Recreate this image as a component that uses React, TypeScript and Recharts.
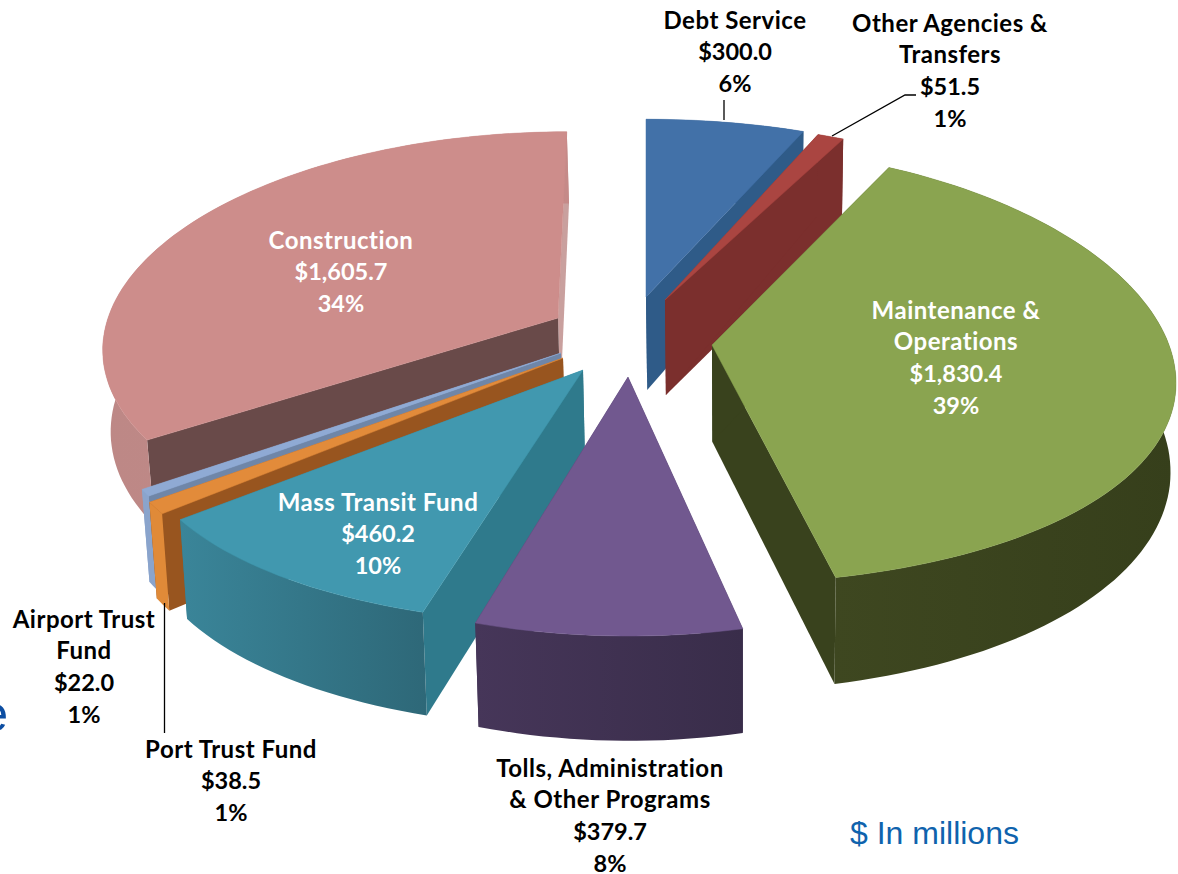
import React from "react";
import { PieChart, Pie } from "recharts";

// Chart values, clockwise from 12 o'clock
const categories = [
  "Debt Service",
  "Other Agencies & Transfers",
  "Maintenance & Operations",
  "Tolls, Administration & Other Programs",
  "Mass Transit Fund",
  "Port Trust Fund",
  "Airport Trust Fund",
  "Construction",
];
const amounts = [300.0, 51.5, 1830.4, 379.7, 460.2, 38.5, 22.0, 1605.7];
const percentLabels = ["6%", "1%", "39%", "8%", "10%", "1%", "1%", "34%"];
const labelLines = [
  ["Debt Service"],
  ["Other Agencies &", "Transfers"],
  ["Maintenance &", "Operations"],
  ["Tolls, Administration", "& Other Programs"],
  ["Mass Transit Fund"],
  ["Port Trust Fund"],
  ["Airport Trust", "Fund"],
  ["Construction"],
];

// Back-to-front painting order
const paintOrder = [7, 0, 1, 2, 6, 5, 4, 3];

// Presentation of every slice: explosion offset and perspective, colours, label position
type Look = {
  tx: number; ty: number; rx: number; ry: number; kx: number; ky: number; sk: number; depth: number; fade: number;
  top: string; cut: string; cutEnd: string; wallA: string; wallB: string;
  lx: number; ly: number; text: string;
};
const looks: Look[] = [
  { tx: 646, ty: 297, rx: 465, ry: 208, kx: 0.17, ky: 0.17, sk: 0, depth: 93, fade: 0, top: "#4271a8", cut: "#2f5b88", cutEnd: "#2f5b88", wallA: "#2f5b88", wallB: "#2f5b88", lx: 735, ly: 20, text: "#000" },
  { tx: 665, ty: 300, rx: 452, ry: 208, kx: 0.17, ky: 0.17, sk: 0, depth: 95, fade: 0, top: "#aa4541", cut: "#7b2f2d", cutEnd: "#7b2f2d", wallA: "#7b2f2d", wallB: "#7b2f2d", lx: 950, ly: 23, text: "#000" },
  { tx: 712, ty: 345, rx: 457, ry: 216, kx: 0.16, ky: 0.095, sk: 6, depth: 97, fade: 0.1, top: "#8aa450", cut: "#39421d", cutEnd: "#39421d", wallA: "#3e4720", wallB: "#363f1b", lx: 956, ly: 310, text: "#fff" },
  { tx: 628, ty: 377, rx: 465, ry: 215, kx: 0.13, ky: 0.17, sk: 0, depth: 87, fade: 0, top: "#71588f", cut: "#3d2f52", cutEnd: "#3d2f52", wallA: "#463659", wallB: "#392d4a", lx: 610, ly: 768, text: "#000" },
  { tx: 583, ty: 370, rx: 445, ry: 228, kx: 0.21, ky: 0.103, sk: 0, depth: 93, fade: 0, top: "#4198af", cut: "#2f7a8c", cutEnd: "#2f7a8c", wallA: "#3a8599", wallB: "#2e6878", lx: 378, ly: 502, text: "#fff" },
  { tx: 563, ty: 358, rx: 460, ry: 230, kx: 0.155, ky: 0.15, sk: 0, depth: 88, fade: 0, top: "#e28b3a", cut: "#98551f", cutEnd: "#98551f", wallA: "#e08a38", wallB: "#e08a38", lx: 231, ly: 749, text: "#000" },
  { tx: 561, ty: 353, rx: 460, ry: 228, kx: 0.15, ky: 0.15, sk: 0, depth: 85, fade: 0, top: "#8faad4", cut: "#6f86a8", cutEnd: "#8aa4cc", wallA: "#8aa4cc", wallB: "#8aa4cc", lx: 84, ly: 619, text: "#000" },
  { tx: 558, ty: 318, rx: 450, ry: 208, kx: 0.13, ky: 0.117, sk: -10, depth: 80, fade: 0, top: "#cd8d8b", cut: "#694a49", cutEnd: "#c9a09e", wallA: "#bd8886", wallB: "#c58a88", lx: 341, ly: 240, text: "#fff" },
];

const rows = categories.map((name, i) => ({ name, value: amounts[i] }));

const FONT = "Lato, sans-serif";
const WALL_VANISH_X = 740;

type Pt = [number, number];

function project(l: Look, thetaDeg: number, radial: number): Pt {
  const t = (thetaDeg * Math.PI) / 180;
  const X = radial * Math.sin(t);
  const Y = -radial * Math.cos(t);
  const px = 1 / (1 - l.kx * Y);
  const py = 1 / (1 - l.ky * Y);
  return [l.tx + (l.rx * X + l.sk * Y) * px, l.ty + l.ry * Y * py];
}

function lower(l: Look, thetaDeg: number, radial: number): Pt {
  const t = (thetaDeg * Math.PI) / 180;
  const X = radial * Math.sin(t);
  const Y = -radial * Math.cos(t);
  const py = 1 / (1 - l.ky * Y);
  const [x, y] = project(l, thetaDeg, radial);
  return [x + (WALL_VANISH_X - x) * 0.0125, y + l.depth * py * (1 - l.fade * X * X)];
}

const path = (pts: Pt[]) => "M" + pts.map((p) => `${p[0].toFixed(1)},${p[1].toFixed(1)}`).join("L") + "Z";

function Slice({ index, startAngle, endAngle }: { index: number; startAngle: number; endAngle: number }) {
  const l = looks[index];
  const a0 = 90 - startAngle;
  const a1 = 90 - endAngle;
  const steps = Math.max(2, Math.ceil((a1 - a0) / 1.5));
  const thetas = Array.from({ length: steps + 1 }, (_, i) => a0 + ((a1 - a0) * i) / steps);
  const tipTop = project(l, 0, 0);
  const tipLow = lower(l, 0, 0);
  const arcTop = thetas.map((t) => project(l, t, 1));
  const arcLow = thetas.map((t) => lower(l, t, 1));
  const gid = `wall-${index}`;
  return (
    <g>
      <defs>
        <linearGradient id={gid} x1="0" y1="0" x2="1" y2="0">
          <stop offset="0%" stopColor={l.wallA} />
          <stop offset="100%" stopColor={l.wallB} />
        </linearGradient>
      </defs>
      <path d={path([tipTop, arcTop[arcTop.length - 1], arcLow[arcLow.length - 1], tipLow])} fill={l.cutEnd} />
      <path d={path([tipTop, arcTop[0], arcLow[0], tipLow])} fill={l.cut} />
      <path d={path([...arcTop, ...[...arcLow].reverse()])} fill={`url(#${gid})`} />
      <path d={path([tipTop, ...arcTop])} fill={l.top} stroke={l.top} strokeWidth={0.5} />
    </g>
  );
}

function Label({ index }: { index: number }) {
  const l = looks[index];
  const valueText = "$" + amounts[index].toLocaleString("en-US", { minimumFractionDigits: 1, maximumFractionDigits: 1 });
  const names = labelLines[index];
  const lines = [...names, valueText, percentLabels[index]];
  return (
    <text textAnchor="middle" fontFamily={FONT} fontWeight={700} fill={l.text} style={{ fontVariantLigatures: "none" }}>
      {lines.map((s, i) => (
        <tspan
          key={i}
          x={l.lx}
          y={l.ly + 8.5 + i * 31.7}
          fontSize={i < names.length ? 24 : 23.5}
          letterSpacing={i < names.length ? 0.5 : 0}
        >
          {s}
        </tspan>
      ))}
    </text>
  );
}

const LEADER = { stroke: "#000", strokeWidth: 1.3, fill: "none" };

export default function App() {
  return (
    <div style={{ position: "absolute", left: 0, top: 0, width: 1178, height: 874, overflow: "hidden", background: "#fff" }}>
      <PieChart width={1178} height={874} margin={{ top: 0, right: 0, bottom: 0, left: 0 }}>
        {paintOrder.map((idx) => (
          <Pie
            key={idx}
            data={rows}
            dataKey="value"
            nameKey="name"
            cx={640}
            cy={400}
            outerRadius={300}
            startAngle={90}
            endAngle={-270}
            stroke="none"
            isAnimationActive={false}
            labelLine={false}
            shape={(p: any) =>
              p.name === categories[idx] ? <Slice index={idx} startAngle={p.startAngle} endAngle={p.endAngle} /> : <g />
            }
          />
        ))}
        <Pie
          data={rows}
          dataKey="value"
          nameKey="name"
          cx={640}
          cy={400}
          outerRadius={300}
          startAngle={90}
          endAngle={-270}
          isAnimationActive={false}
          shape={(p: any) => <Label index={categories.indexOf(p.name)} />}
        />
      </PieChart>
      <svg width={1178} height={874} style={{ position: "absolute", left: 0, top: 0, pointerEvents: "none" }}>
        <polyline points="724,100 724,120" {...LEADER} />
        <polyline points="832,136 905,95 916,95" {...LEADER} />
        <polyline points="164.5,603 164.5,733" {...LEADER} />
        <text x={850} y={844} fontFamily="Liberation Sans, Arial, sans-serif" fontSize={32} fill="#0f63ad">
          $ In millions
        </text>
        <text x={8} y={731} textAnchor="end" fontFamily="Liberation Sans, Arial, sans-serif" fontSize={50} fill="#0d4ea2">
          e
        </text>
      </svg>
    </div>
  );
}
